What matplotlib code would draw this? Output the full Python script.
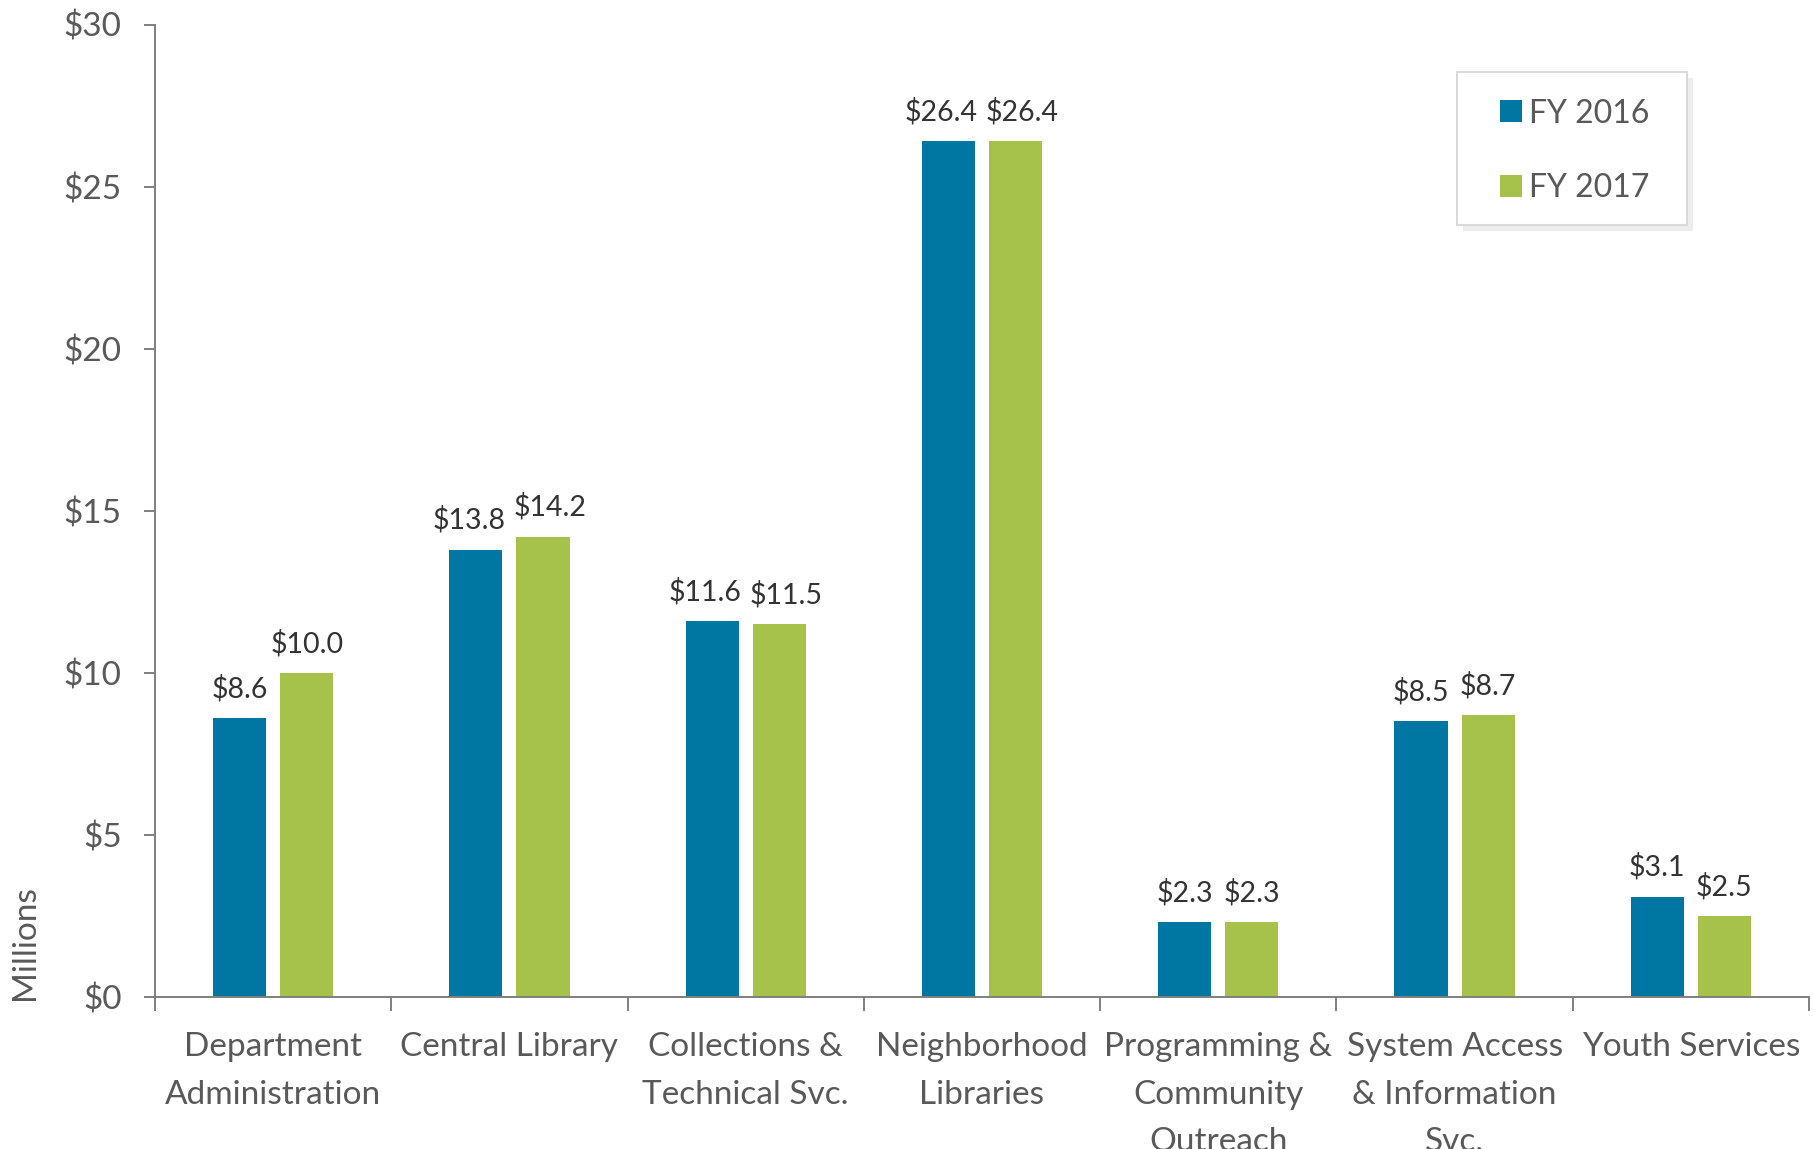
import matplotlib
matplotlib.use("Agg")
import matplotlib.pyplot as plt
import matplotlib.patheffects as pe
from matplotlib.patches import Rectangle
import numpy as np

categories = ["Department\nAdministration", "Central Library", "Collections &\nTechnical Svc.",
              "Neighborhood\nLibraries", "Programming &\nCommunity\nOutreach",
              "System Access\n& Information\nSvc.", "Youth Services"]
fy2016 = [8.6, 13.8, 11.6, 26.4, 2.3, 8.5, 3.1]
fy2017 = [10.0, 14.2, 11.5, 26.4, 2.3, 8.7, 2.5]
series_names = ["FY 2016", "FY 2017"]
yticks = [0, 5, 10, 15, 20, 25, 30]
ytick_labels = ["$0", "$5", "$10", "$15", "$20", "$25", "$30"]

BLUE = "#0076A3"
GREEN = "#A6C24A"
GRAY_TXT = "#595959"
DARK_TXT = "#333333"
AXIS = "#7F7F7F"

plt.rcParams['font.family'] = ['Lato', 'DejaVu Sans']

W, H = 1815, 1149
fig = plt.figure(figsize=(W / 100, H / 100), dpi=100)
ax = fig.add_axes([155 / W, 1 - 997 / H, (1809 - 155) / W, (997 - 24.5) / H])

x = np.arange(len(categories))
bw = 0.225
off = 0.142
b1 = ax.bar(x - off, fy2016, bw, color=BLUE, label=series_names[0], zorder=2)
b2 = ax.bar(x + off, fy2017, bw, color=GREEN, label=series_names[1], zorder=2)

for i in range(len(categories)):
    a, b = f"${fy2016[i]:.1f}", f"${fy2017[i]:.1f}"
    shift = 5 if (len(a) >= 5 and len(b) >= 5) else 0
    ax.annotate(a, (x[i] - off, fy2016[i]), xytext=(-shift, 15), textcoords="offset points",
                ha="center", va="baseline", fontsize=20.5, color=DARK_TXT)
    ax.annotate(b, (x[i] + off, fy2017[i]), xytext=(shift, 15), textcoords="offset points",
                ha="center", va="baseline", fontsize=20.5, color=DARK_TXT)

ax.set_xlim(-0.5, len(categories) - 0.5)
ax.set_ylim(0, 30)
ax.set_yticks(yticks)
ax.set_yticklabels(ytick_labels)
ax.tick_params(axis="y", direction="out", length=8, width=1.4, color=AXIS,
               labelsize=24, labelcolor=GRAY_TXT, pad=16)

ax.set_xticks(x)
ax.set_xticklabels(categories, fontsize=24, color=GRAY_TXT, linespacing=1.72)
ax.set_xticks(np.arange(-0.5, len(categories)), minor=True)
ax.tick_params(axis="x", which="major", length=0, pad=25.5)
ax.tick_params(axis="x", which="minor", direction="out", length=10, width=1.4, color=AXIS)

for s in ["top", "right"]:
    ax.spines[s].set_visible(False)
for s in ["left", "bottom"]:
    ax.spines[s].set_color(AXIS)
    ax.spines[s].set_linewidth(1.4)

fig.text(25.5 / W, 1 - 943 / H, "Millions", rotation=90, ha="center", va="center",
         fontsize=24, color=GRAY_TXT)

# legend box
rect = Rectangle((1457 / W, 1 - 225 / H), (1687 - 1457) / W, (225 - 72) / H,
                 transform=fig.transFigure, facecolor="white", edgecolor="#D9D9D9",
                 linewidth=1.5, zorder=5)
rect.set_path_effects([pe.SimplePatchShadow(offset=(4, -4), shadow_rgbFace="#D8D8D8", alpha=0.45),
                       pe.Normal()])
fig.patches.append(rect)

leg = fig.legend(handles=[b1, b2], labels=series_names, loc="center left",
                 bbox_to_anchor=(1500 / W, 1 - 151 / H), frameon=False,
                 fontsize=23, labelcolor=GRAY_TXT, handlelength=0.68, handleheight=0.68,
                 handletextpad=0.22, labelspacing=1.4, borderpad=0, borderaxespad=0)
leg.set_zorder(6)

fig.savefig("out.png", dpi=100)
